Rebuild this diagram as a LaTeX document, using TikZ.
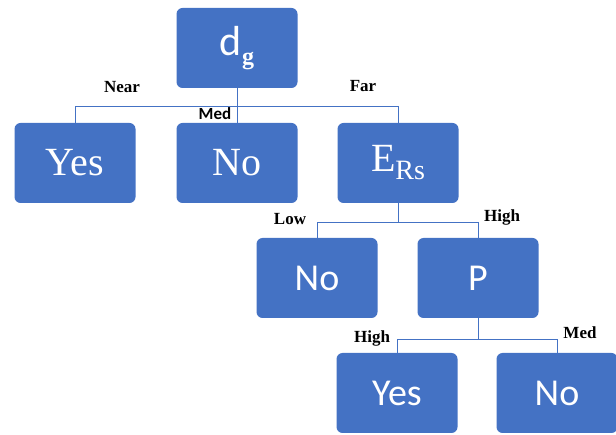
\documentclass[tikz,border=0pt]{standalone}
\usepackage{fontspec}
\setmainfont{Liberation Serif}
\newfontfamily\calibri{Carlito}
\definecolor{boxblue}{RGB}{68,114,196}
\tikzset{
  leafbox/.style={fill=boxblue, rounded corners=6pt, minimum width=121pt, minimum height=80pt, text=white, inner sep=0pt},
  branch/.style={draw=boxblue, line width=0.9pt},
  edgelabel/.style={font=\fontsize{17}{19}\selectfont\bfseries, inner sep=0pt},
}
\begin{document}
\begin{tikzpicture}[x=1pt, y=-1pt]%
\useasboundingbox (0,0) rectangle (616,435);%
% level 1
\node[leafbox, font=\fontsize{42}{44}\selectfont] (dg) at (237,48) {{\calibri d}\raisebox{-9pt}{\fontsize{24}{26}\selectfont\bfseries g}};%
% level 2
\node[leafbox, font=\fontsize{40}{42}\selectfont] (yesA) at (75,163) {Yes};%
\node[leafbox, font=\fontsize{40}{42}\selectfont] (noA) at (237,163) {No};%
\node[leafbox, font=\fontsize{40}{42}\selectfont] (ers) at (398,163) {E\raisebox{-8pt}{\fontsize{28}{30}\selectfont Rs}};%
% level 3
\node[leafbox, font=\calibri\fontsize{38}{40}\selectfont] (noB) at (317,278) {No};%
\node[leafbox, font=\calibri\fontsize{38}{40}\selectfont] (p) at (478,278) {P};%
% level 4
\node[leafbox, font=\calibri\fontsize{38}{40}\selectfont] (yesC) at (397,393) {Yes};%
\node[leafbox, font=\calibri\fontsize{38}{40}\selectfont] (noC) at (557,393) {No};%
% connectors
\draw[branch] (dg.south) -- ++(0,18) -| (yesA.north);%
\draw[branch] (dg.south) -- (noA.north);%
\draw[branch] (dg.south) -- ++(0,18) -| (ers.north);%
\draw[branch] (ers.south) -- ++(0,19) -| (noB.north);%
\draw[branch] (ers.south) -- ++(0,19) -| (p.north);%
\draw[branch] (p.south) -- ++(0,21) -| (yesC.north);%
\draw[branch] (p.south) -- ++(0,21) -| (noC.north);%
% labels
\node[edgelabel] (lnear) at (122,87) {Near};%
\node[edgelabel, font=\calibri\fontsize{17}{19}\selectfont\bfseries] (lmedA) at (215,114) {Med};%
\node[edgelabel] (lfar) at (363,86) {Far};%
\node[edgelabel] (llow) at (290,219) {Low};%
\node[edgelabel] (lhighA) at (502,217) {High};%
\node[edgelabel] (lhighB) at (372,338) {High};%
\node[edgelabel] (lmedB) at (580,333) {Med};%
\end{tikzpicture}
\end{document}
